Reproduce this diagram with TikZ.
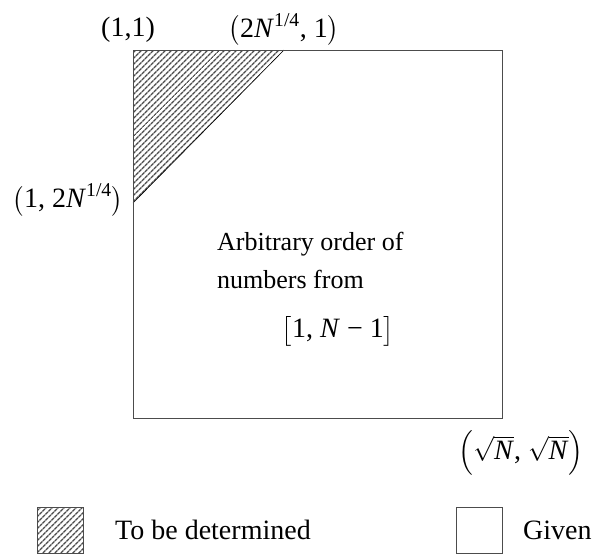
\documentclass[tikz,border=0pt]{standalone}
\usepackage{amsmath}
\usepackage{fontspec}
\setmainfont{Liberation Serif}
\usetikzlibrary{patterns.meta}
\tikzset{
  frame/.style={draw=black!70, line width=1pt},
  hatch/.style={pattern={Lines[angle=45, distance=4pt, line width=1.5pt]}, pattern color=black!70},
  lbl/.style={inner sep=0pt, font=\fontsize{28}{32}\selectfont},
  txt/.style={inner sep=0pt, anchor=west, font=\fontsize{26}{30}\selectfont},
  leg/.style={inner sep=0pt, anchor=west, font=\fontsize{28}{32}\selectfont}
}
\begin{document}
\begin{tikzpicture}[x=1pt,y=-1pt]
\useasboundingbox (0,0) rectangle (611,558);
% main square
\coordinate (tl) at (133,50);
\coordinate (tr) at (502,50);
\coordinate (br) at (502,418);
\coordinate (bl) at (133,418);
\coordinate (tp) at (284,50);
\coordinate (lp) at (133,203);
\fill[hatch] (tl) -- (tp) -- (lp) -- cycle;
\draw[black, line width=0.6pt] (tp) -- (lp);
\draw[frame] (tl) -- (tr) -- (br) -- (bl) -- cycle;
% labels
\node[lbl, anchor=base] (l11) at (128,36) {(1,1)};
\node[lbl, anchor=base] (l2n) at (284,37) {$\bigl(\text{2\textit{N}}^{\text{1/4}}\text{, 1}\bigr)$};
\node[lbl] (l12n) at (68,200) {$\bigl(\text{1, 2\textit{N}}^{\text{1/4}}\bigr)$};
\node[lbl] (lsq) at (521,453) {$\Bigl(\sqrt{\text{\textit{N}}}\text{, }\sqrt{\text{\textit{N}}}\Bigr)$};
\node[txt] (t1) at (217,244) {Arbitrary order of};
\node[txt] (t2) at (217,279) {numbers from};
\node[lbl] (t3) at (338,331) {$\bigl[\text{1, \textit{N} − 1}\bigr]$};
% legend
\node[draw=black!70, line width=0.6pt, hatch, minimum width=46pt, minimum height=46pt, inner sep=0pt] (lg1) at (60,530) {};
\node[leg] (lt1) at (115,530) {To be determined};
\node[draw=black!70, line width=0.8pt, minimum width=46pt, minimum height=46pt, inner sep=0pt] (lg2) at (479,530) {};
\node[leg] (lt2) at (523,530) {Given};
\end{tikzpicture}
\end{document}
